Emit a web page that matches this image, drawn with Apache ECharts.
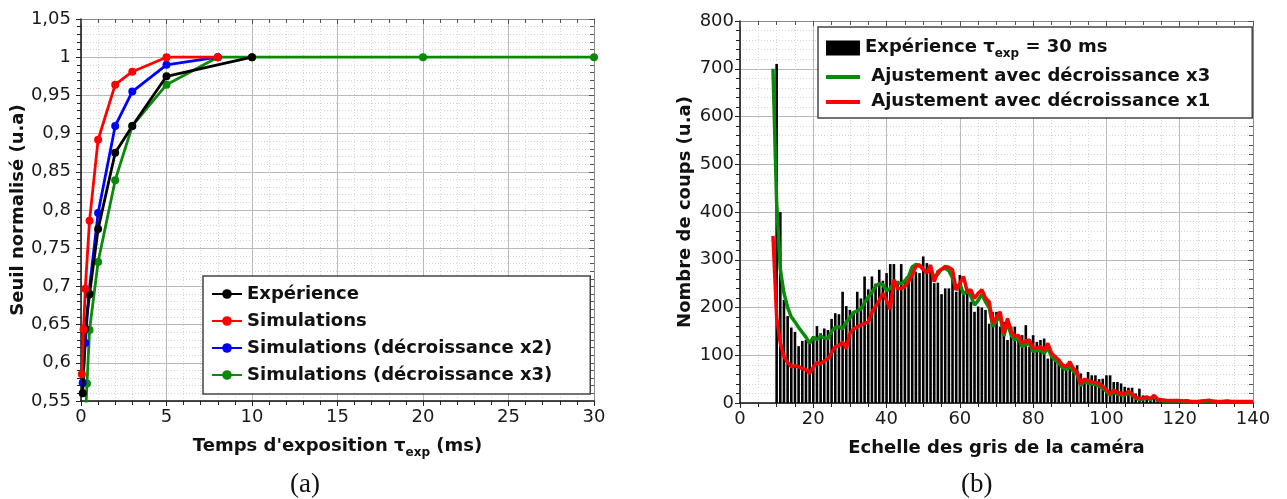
<!DOCTYPE html>
<html><head><meta charset="utf-8">
<script src="https://cdn.jsdelivr.net/npm/echarts@6/dist/echarts.min.js"></script>
<style>html,body{margin:0;padding:0;background:#fff}#c{width:1287px;height:499px}</style>
</head><body><div id="c"></div>
<script>
// ---------- Panel (a) data ----------
const expX   = [0.1, 0.25, 0.5, 1, 2, 3, 5, 10];
const expY   = [0.56, 0.645, 0.69, 0.775, 0.875, 0.91, 0.975, 1];
const simX   = [0.05, 0.15, 0.25, 0.5, 1, 2, 3, 5, 8];
const simY   = [0.585, 0.644, 0.697, 0.786, 0.892, 0.964, 0.981, 1, 1];
const sim2X  = [0.1, 0.25, 0.45, 1, 2, 3, 5, 8];
const sim2Y  = [0.574, 0.626, 0.689, 0.796, 0.910, 0.955, 0.990, 1];
const sim3X  = [0.2, 0.35, 0.5, 1, 2, 3, 5, 8, 10, 20, 30];
const sim3Y  = [0.50, 0.573, 0.643, 0.732, 0.839, 0.910, 0.964, 1, 1, 1, 1];
const namesA = ['Expérience', 'Simulations', 'Simulations (décroissance x2)', 'Simulations (décroissance x3)'];

// ---------- Panel (b) data ----------
const histStart = 10; // first grey level of the histogram
const histCounts = [710,400,216,182,158,149,119,130,132,125,140,161,146,156,153,176,188,186,233,203,
  195,191,233,219,265,238,265,250,279,256,272,291,291,256,291,258,254,286,275,272,
  307,293,286,251,252,228,240,240,272,233,268,233,240,212,191,202,200,195,166,191,
  191,160,170,132,160,160,132,142,163,118,142,128,132,135,93,104,100,93,79,76,
  77,72,79,62,51,65,58,58,50,51,58,58,44,44,41,34,32,32,20,30,
  16,14,13,15,9,8,7,6,6,5,4,3,3,2,2,1,1,1,1,0,
  0,0,0,0,0,0,0,0,0,0,0];
const fitStart = 9; // first grey level of the fits
const fitX3 = [700,420,280,230,200,180,170,158,148,138,125,138,133,140,136,135,150,158,160,155,
  170,178,190,193,197,210,222,232,244,250,248,235,240,252,252,250,256,265,285,290,
  288,280,275,282,262,270,280,282,277,262,237,250,228,235,224,205,215,228,212,200,
  160,172,182,140,168,142,132,135,118,122,125,108,110,110,104,115,98,90,84,74,
  70,78,66,60,36,45,42,40,39,36,31,24,17,23,19,17,17,20,17,10,
  7,8,11,7,13,6,5,4,4,4,4,4,3,4,2,2,2,3,4,5,
  3,2,2,3,3,2,2,2,2,2,2,2];
const fitX1 = [350,180,125,97,85,76,78,76,72,70,62,75,85,82,88,93,105,118,120,128,
  114,146,155,160,163,167,170,190,202,215,230,215,196,258,240,240,244,255,268,286,
  289,280,272,289,254,275,280,286,284,279,237,250,265,233,237,219,230,237,220,212,
  167,180,191,146,177,150,139,142,125,130,132,114,116,118,111,125,105,97,90,80,
  76,86,72,65,40,50,47,44,43,41,35,28,20,27,22,20,20,24,20,12,
  9,10,13,9,16,8,7,6,5,5,5,5,4,5,3,3,3,4,5,6,
  4,3,3,3,4,3,3,3,3,3,3,3];
const nameHist = 'Expérience τexp = 30 ms';
const nameFit3 = 'Ajustement avec décroissance x3';
const nameFit1 = 'Ajustement avec décroissance x1';

const zip = (xs, ys) => xs.map((x, i) => [x, ys[i]]);
const seq = (start, arr) => arr.map((v, i) => [start + i, v]);

const FONT = '"DejaVu Sans", Verdana, sans-serif';
const majorSplit = {show: true, lineStyle: {color: '#b9b9b9', width: 1}};
const minorSplit = {show: true, lineStyle: {color: '#d6d6d6', width: 1, type: [1, 2]}};
const labelStyle = {color: '#1a1a1a', fontSize: 18, fontFamily: FONT};
const boldRich = {
  b: {fontSize: 18, fontWeight: 'bold', fontFamily: FONT, color: '#111', verticalAlign: 'top', lineHeight: 20},
  s: {fontSize: 12, fontWeight: 'bold', fontFamily: FONT, color: '#111', verticalAlign: 'top', lineHeight: 12, padding: [10, 0, 0, 0]}
};
const lineIcon = 'path://M0,0 L34,0 L34,4 L0,4 Z';

function mainX(gridIndex, min, max, interval, minorSplitNum, name, gap) {
  return {type: 'value', gridIndex, min, max, interval, position: 'bottom',
    axisLine: {show: true, onZero: false, lineStyle: {color: '#111', width: 1.5}},
    axisTick: {show: true, length: 5, lineStyle: {color: '#222'}},
    minorTick: {show: true, splitNumber: minorSplitNum, length: 4, lineStyle: {color: '#222'}},
    splitLine: majorSplit, minorSplitLine: minorSplit,
    axisLabel: Object.assign({margin: 7}, labelStyle),
    name, nameLocation: 'middle', nameGap: gap, nameTextStyle: {rich: boldRich}};
}
function mirrorX(gridIndex, min, max, interval, minorSplitNum) {
  return {type: 'value', gridIndex, min, max, interval, position: 'top',
    axisLine: {show: true, onZero: false, lineStyle: {color: '#8a8a8a', width: 1}},
    axisTick: {show: true, inside: true, length: 5, lineStyle: {color: '#555'}},
    minorTick: {show: true, splitNumber: minorSplitNum, length: 4, lineStyle: {color: '#555'}},
    splitLine: {show: false}, axisLabel: {show: false}};
}
function mainY(gridIndex, min, max, interval, fmt, name, gap, margin) {
  return {type: 'value', gridIndex, min, max, interval, position: 'left',
    axisLine: {show: true, onZero: false, lineStyle: {color: '#111', width: 1.5}},
    axisTick: {show: true, length: 5, lineStyle: {color: '#222'}},
    minorTick: {show: true, splitNumber: 5, length: 4, lineStyle: {color: '#222'}},
    splitLine: majorSplit, minorSplitLine: minorSplit,
    axisLabel: Object.assign({margin, formatter: fmt}, labelStyle),
    name, nameLocation: 'middle', nameGap: gap, nameRotate: 90,
    nameTextStyle: {fontSize: 18, fontWeight: 'bold', fontFamily: FONT, color: '#111'}};
}
function mirrorY(gridIndex, min, max, interval) {
  return {type: 'value', gridIndex, min, max, interval, position: 'right',
    axisLine: {show: true, onZero: false, lineStyle: {color: '#8a8a8a', width: 1}},
    axisTick: {show: true, inside: true, length: 5, lineStyle: {color: '#555'}},
    minorTick: {show: true, splitNumber: 5, length: 4, lineStyle: {color: '#555'}},
    splitLine: {show: false}, axisLabel: {show: false}};
}

const commaFmt = v => String(Math.round(v * 100) / 100).replace('.', ',');

function lineA(name, xs, ys, color, z) {
  return {type: 'line', name, xAxisIndex: 0, yAxisIndex: 0, data: zip(xs, ys),
    symbol: 'circle', symbolSize: 8, showSymbol: true, clip: true, z,
    lineStyle: {color, width: 2.8}, itemStyle: {color}};
}

const chart = echarts.init(document.getElementById('c'), null, {renderer: 'canvas'});
chart.setOption({
  animation: false,
  backgroundColor: '#fff',
  grid: [
    {left: 81, top: 19, width: 513, height: 382},
    {left: 740, top: 21, width: 513, height: 382}
  ],
  xAxis: [
    mainX(0, 0, 30, 5, 5, "{b|Temps d'exposition τ}{s|exp}{b| (ms)}", 36),
    mirrorX(0, 0, 30, 5, 5),
    mainX(1, 0, 140, 20, 4, '{b|Echelle des gris de la caméra}', 36),
    mirrorX(1, 0, 140, 20, 4)
  ],
  yAxis: [
    mainY(0, 0.55, 1.05, 0.05, commaFmt, 'Seuil normalisé (u.a)', 51, 10),
    mirrorY(0, 0.55, 1.05, 0.05),
    mainY(1, 0, 800, 100, v => String(v), 'Nombre de coups (u.a)', 46, 6),
    mirrorY(1, 0, 800, 100)
  ],
  legend: [
    {orient: 'vertical', left: 203, top: 276, itemGap: 9, itemWidth: 30, itemHeight: 12,
      padding: [9, 38, 10, 8], backgroundColor: '#fff', borderColor: '#444', borderWidth: 1.5,
      textStyle: {fontSize: 18, fontWeight: 'bold', fontFamily: FONT, color: '#111'},
      data: namesA},
    {orient: 'vertical', left: 818, top: 27, itemGap: 7, itemWidth: 34, itemHeight: 15,
      padding: [11, 42, 8, 8], backgroundColor: '#fff', borderColor: '#444', borderWidth: 1.5,
      textStyle: {fontSize: 18, fontWeight: 'bold', fontFamily: FONT, color: '#111', rich: boldRich},
      formatter: n => n === nameHist ? '{b|Expérience τ}{s|exp}{b| = 30 ms}' : '{b| ' + n + '}',
      data: [{name: nameHist, icon: 'rect'}, {name: nameFit3, icon: lineIcon}, {name: nameFit1, icon: lineIcon}]}
  ],
  graphic: [
    {type: 'text', left: 290, top: 471, style: {text: '(a)', font: '27px "Liberation Serif", serif', fill: '#111'}},
    {type: 'text', left: 961, top: 471, style: {text: '(b)', font: '27px "Liberation Serif", serif', fill: '#111'}}
  ],
  series: [
    lineA(namesA[3], sim3X, sim3Y, '#0a8a0a', 3),
    lineA(namesA[2], sim2X, sim2Y, '#0000ff', 4),
    lineA(namesA[0], expX, expY, '#000000', 5),
    lineA(namesA[1], simX, simY, '#ff0000', 6),
    {type: 'bar', name: nameHist, xAxisIndex: 2, yAxisIndex: 2, data: seq(histStart, histCounts),
      barWidth: 2.6, itemStyle: {color: '#000'}, z: 2},
    {type: 'line', name: nameFit3, xAxisIndex: 2, yAxisIndex: 2, data: seq(fitStart, fitX3),
      symbol: 'none', lineStyle: {color: '#0a8a0a', width: 3.5}, itemStyle: {color: '#0a8a0a'}, z: 3},
    {type: 'line', name: nameFit1, xAxisIndex: 2, yAxisIndex: 2, data: seq(fitStart, fitX1),
      symbol: 'none', lineStyle: {color: '#ff0000', width: 3.5}, itemStyle: {color: '#ff0000'}, z: 4}
  ]
});
</script></body></html>
